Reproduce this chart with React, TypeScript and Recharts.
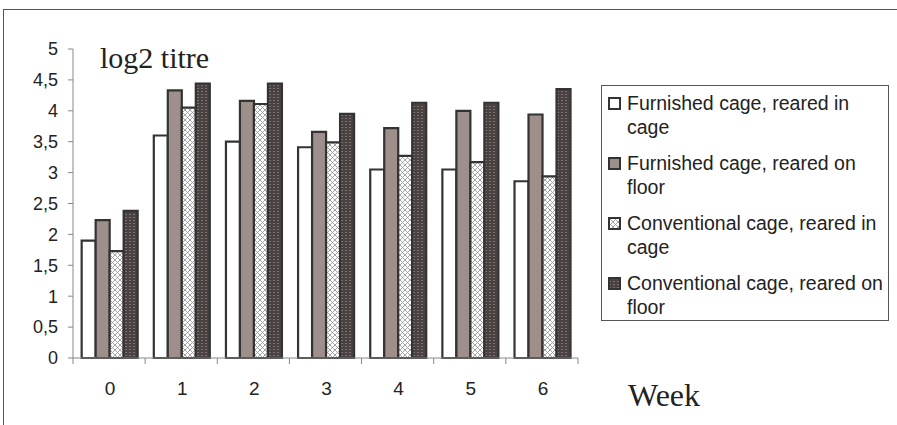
import React from 'react';
import { BarChart, Bar, XAxis, YAxis } from 'recharts';

const weeks = ['0', '1', '2', '3', '4', '5', '6'];
const furnishedCage = [1.9, 3.6, 3.5, 3.41, 3.05, 3.05, 2.86];
const furnishedFloor = [2.23, 4.33, 4.16, 3.66, 3.72, 4.0, 3.94];
const conventionalCage = [1.73, 4.05, 4.11, 3.49, 3.27, 3.17, 2.94];
const conventionalFloor = [2.38, 4.44, 4.44, 3.95, 4.13, 4.13, 4.35];

const seriesKeys = ['fc', 'ff', 'cc', 'cf'];
const seriesFills = ['#ffffff', '#9e8f8b', 'url(#crossPat)', 'url(#dotPat)'];
const legendLines = [
  ['Furnished cage, reared in', 'cage'],
  ['Furnished cage, reared on', 'floor'],
  ['Conventional cage, reared in', 'cage'],
  ['Conventional cage, reared on', 'floor'],
];
const yTicks = [0, 0.5, 1, 1.5, 2, 2.5, 3, 3.5, 4, 4.5, 5];

const data = weeks.map((w, i) => ({
  week: w,
  fc: furnishedCage[i],
  ff: furnishedFloor[i],
  cc: conventionalCage[i],
  cf: conventionalFloor[i],
}));

const W = 897;
const H = 425;
const MARGIN = { top: 49, right: 319, bottom: 0, left: 0 };
const Y_W = 73;
const X_H = 67;
const PLOT_W = W - MARGIN.right - MARGIN.left - Y_W;

const XTick = (props: any) => {
  const { x, y, payload, index, visibleTicksCount } = props;
  const n = visibleTicksCount || weeks.length;
  const step = PLOT_W / n;
  const half = step / 2;
  return (
    <g>
      <line x1={x - half} x2={x - half} y1={y} y2={y + 6} stroke="#888" strokeWidth={1} />
      {index === n - 1 && (
        <line x1={x + half} x2={x + half} y1={y} y2={y + 6} stroke="#888" strokeWidth={1} />
      )}
      <text x={x + 1} y={y + 37} textAnchor="middle" fontFamily="'Liberation Sans', Arial, sans-serif" fontSize={19} fill="#222">
        {payload.value}
      </text>
    </g>
  );
};

const Swatch = ({ fill }: { fill: string }) => (
  <svg width={13} height={13} style={{ position: 'absolute', left: 6, top: 6 }}>
    <rect x={1} y={1} width={11} height={11} fill={fill} stroke="#333" strokeWidth={2} />
  </svg>
);

export default function App() {
  return (
    <div style={{ position: 'absolute', left: 0, top: 0, width: W, height: H, background: '#fff', overflow: 'hidden' }}>
      <div
        style={{
          position: 'absolute',
          left: 3,
          top: 9,
          width: W,
          height: H,
          borderTop: '1px solid #555',
          borderLeft: '1px solid #555',
        }}
      />
      <div style={{ position: 'absolute', left: 0, top: 0 }}>
        <BarChart width={W} height={H} data={data} margin={MARGIN} barCategoryGap="12%" barGap={0}>
          <defs>
            <pattern id="crossPat" width="5" height="5" patternUnits="userSpaceOnUse">
              <rect width="5" height="5" fill="#ffffff" />
              <path d="M0,0 L5,5 M5,0 L0,5" stroke="#9a9a9a" strokeWidth="0.9" />
            </pattern>
            <pattern id="dotPat" width="4" height="3" patternUnits="userSpaceOnUse">
              <rect width="4" height="3" fill="#4a4242" />
              <rect x="1.5" y="1" width="1" height="1" fill="#b0a4a0" />
            </pattern>
          </defs>
          <XAxis
            dataKey="week"
            height={X_H}
            axisLine={{ stroke: '#888', strokeWidth: 1 }}
            tickLine={false}
            tickSize={0}
            tickMargin={0}
            interval={0}
            tick={<XTick />}
          />
          <YAxis
            width={Y_W}
            domain={[0, 5]}
            ticks={yTicks}
            interval={0}
            axisLine={{ stroke: '#888', strokeWidth: 1 }}
            tickLine={{ stroke: '#888', strokeWidth: 1 }}
            tickSize={5}
            tickMargin={10}
            tickFormatter={(v: number) => String(v).replace('.', ',')}
            tick={{ fontFamily: "'Liberation Sans', Arial, sans-serif", fontSize: 18, fill: '#222' }}
          />
          {seriesKeys.map((k, i) => (
            <Bar
              key={k}
              dataKey={k}
              fill={seriesFills[i]}
              stroke="#333"
              strokeWidth={2.2}
              isAnimationActive={false}
            />
          ))}
          <text x={100} y={68} fontFamily="'Liberation Serif', 'Times New Roman', serif" fontSize={30} fill="#222">
            log2 titre
          </text>
          <text x={628} y={406} fontFamily="'Liberation Serif', 'Times New Roman', serif" fontSize={32} fill="#222">
            Week
          </text>
        </BarChart>
      </div>
      <div
        style={{
          position: 'absolute',
          left: 601,
          top: 85,
          width: 288,
          height: 236,
          boxSizing: 'border-box',
          border: '1px solid #555',
          background: '#fff',
          fontFamily: "'Liberation Sans', Arial, sans-serif",
          fontSize: 19.5,
          lineHeight: '24px',
          color: '#222',
          paddingTop: 5,
        }}
      >
        {legendLines.map((lines, i) => (
          <div key={i} style={{ position: 'relative', height: 48, marginBottom: 12, paddingLeft: 25, whiteSpace: 'nowrap' }}>
            <Swatch fill={seriesFills[i]} />
            <div>{lines[0]}</div>
            <div>{lines[1]}</div>
          </div>
        ))}
      </div>
    </div>
  );
}
